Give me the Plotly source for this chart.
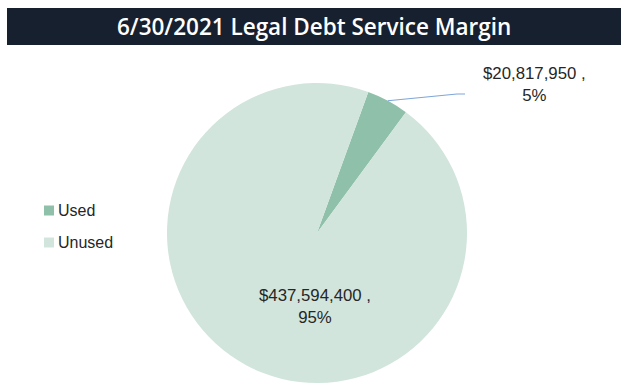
import math
import plotly.graph_objects as go

# Legal debt service margin as of 6/30/2021
labels = ["Used", "Unused"]
values = [20817950, 437594400]
colors = ["#8fc1aa", "#d1e5dc"]
title_text = "6/30/2021 Legal Debt Service Margin"

W, H = 621, 386
cx, cy, R = 317, 233, 150          # pie centre / radius in pixels
rotation = 20                        # start angle of first slice (clockwise from top)

total = sum(values)
pcts = [v / total for v in values]


def px(x):
    return x / W


def py(y):
    return 1 - y / H


def label_text(v, p):
    return f"${v:,.0f} ,<br>{p * 100:.0f}%"


fig = go.Figure()

fig.add_trace(go.Pie(
    labels=labels,
    values=values,
    marker=dict(colors=colors, line=dict(width=0)),
    sort=False,
    direction="clockwise",
    rotation=rotation,
    textinfo="none",
    hoverinfo="label+value+percent",
    showlegend=False,
    domain=dict(x=[px(cx - R), px(cx + R)], y=[py(cy + R), py(cy - R)]),
))

# header bar with title
fig.add_shape(type="rect", xref="paper", yref="paper",
              x0=px(7), x1=1.0, y0=py(45), y1=py(8),
              fillcolor="#17202f", line=dict(width=0), layer="below")
fig.add_annotation(xref="paper", yref="paper", x=px(313.5), y=py(26.5),
                   text=title_text, showarrow=False,
                   font=dict(family="Open Sans", size=22.5, color="white", weight=600),
                   xanchor="center", yanchor="middle")

# legend: colour squares with category names
leg_font = dict(family="Liberation Sans", size=16, color="#262626")
for i, (lab, col) in enumerate(zip(labels, colors)):
    yc = 210.5 + i * 32
    fig.add_shape(type="rect", xref="paper", yref="paper",
                  x0=px(44), x1=px(54), y0=py(yc + 5), y1=py(yc - 5),
                  fillcolor=col, line=dict(width=0))
    fig.add_annotation(xref="paper", yref="paper", x=px(56), y=py(yc),
                       text=lab, showarrow=False, font=leg_font,
                       xanchor="left", yanchor="middle")

# leader line from the small slice to its label
mid_used = math.radians(rotation + pcts[0] * 360 / 2)
sx = cx + R * math.sin(mid_used)
sy = cy - R * math.cos(mid_used)
path = f"M {px(sx)},{py(sy)} L {px(457)},{py(94)} L {px(465)},{py(94)}"
fig.add_shape(type="path", xref="paper", yref="paper", path=path,
              line=dict(color="#7ea6d8", width=1.2))

lbl_font = dict(family="Liberation Sans", size=16.8, color="#262626")
fig.add_annotation(xref="paper", yref="paper", x=px(534.5), y=py(84),
                   text=label_text(values[0], pcts[0]), showarrow=False,
                   font=lbl_font, align="center", xanchor="center", yanchor="middle")
fig.add_annotation(xref="paper", yref="paper", x=px(314.5), y=py(306),
                   text=label_text(values[1], pcts[1]), showarrow=False,
                   font=lbl_font, align="center", xanchor="center", yanchor="middle")

fig.update_layout(
    width=W, height=H,
    margin=dict(l=0, r=0, t=0, b=0),
    paper_bgcolor="white", plot_bgcolor="white",
    showlegend=False,
)

fig.write_html("out.html")
